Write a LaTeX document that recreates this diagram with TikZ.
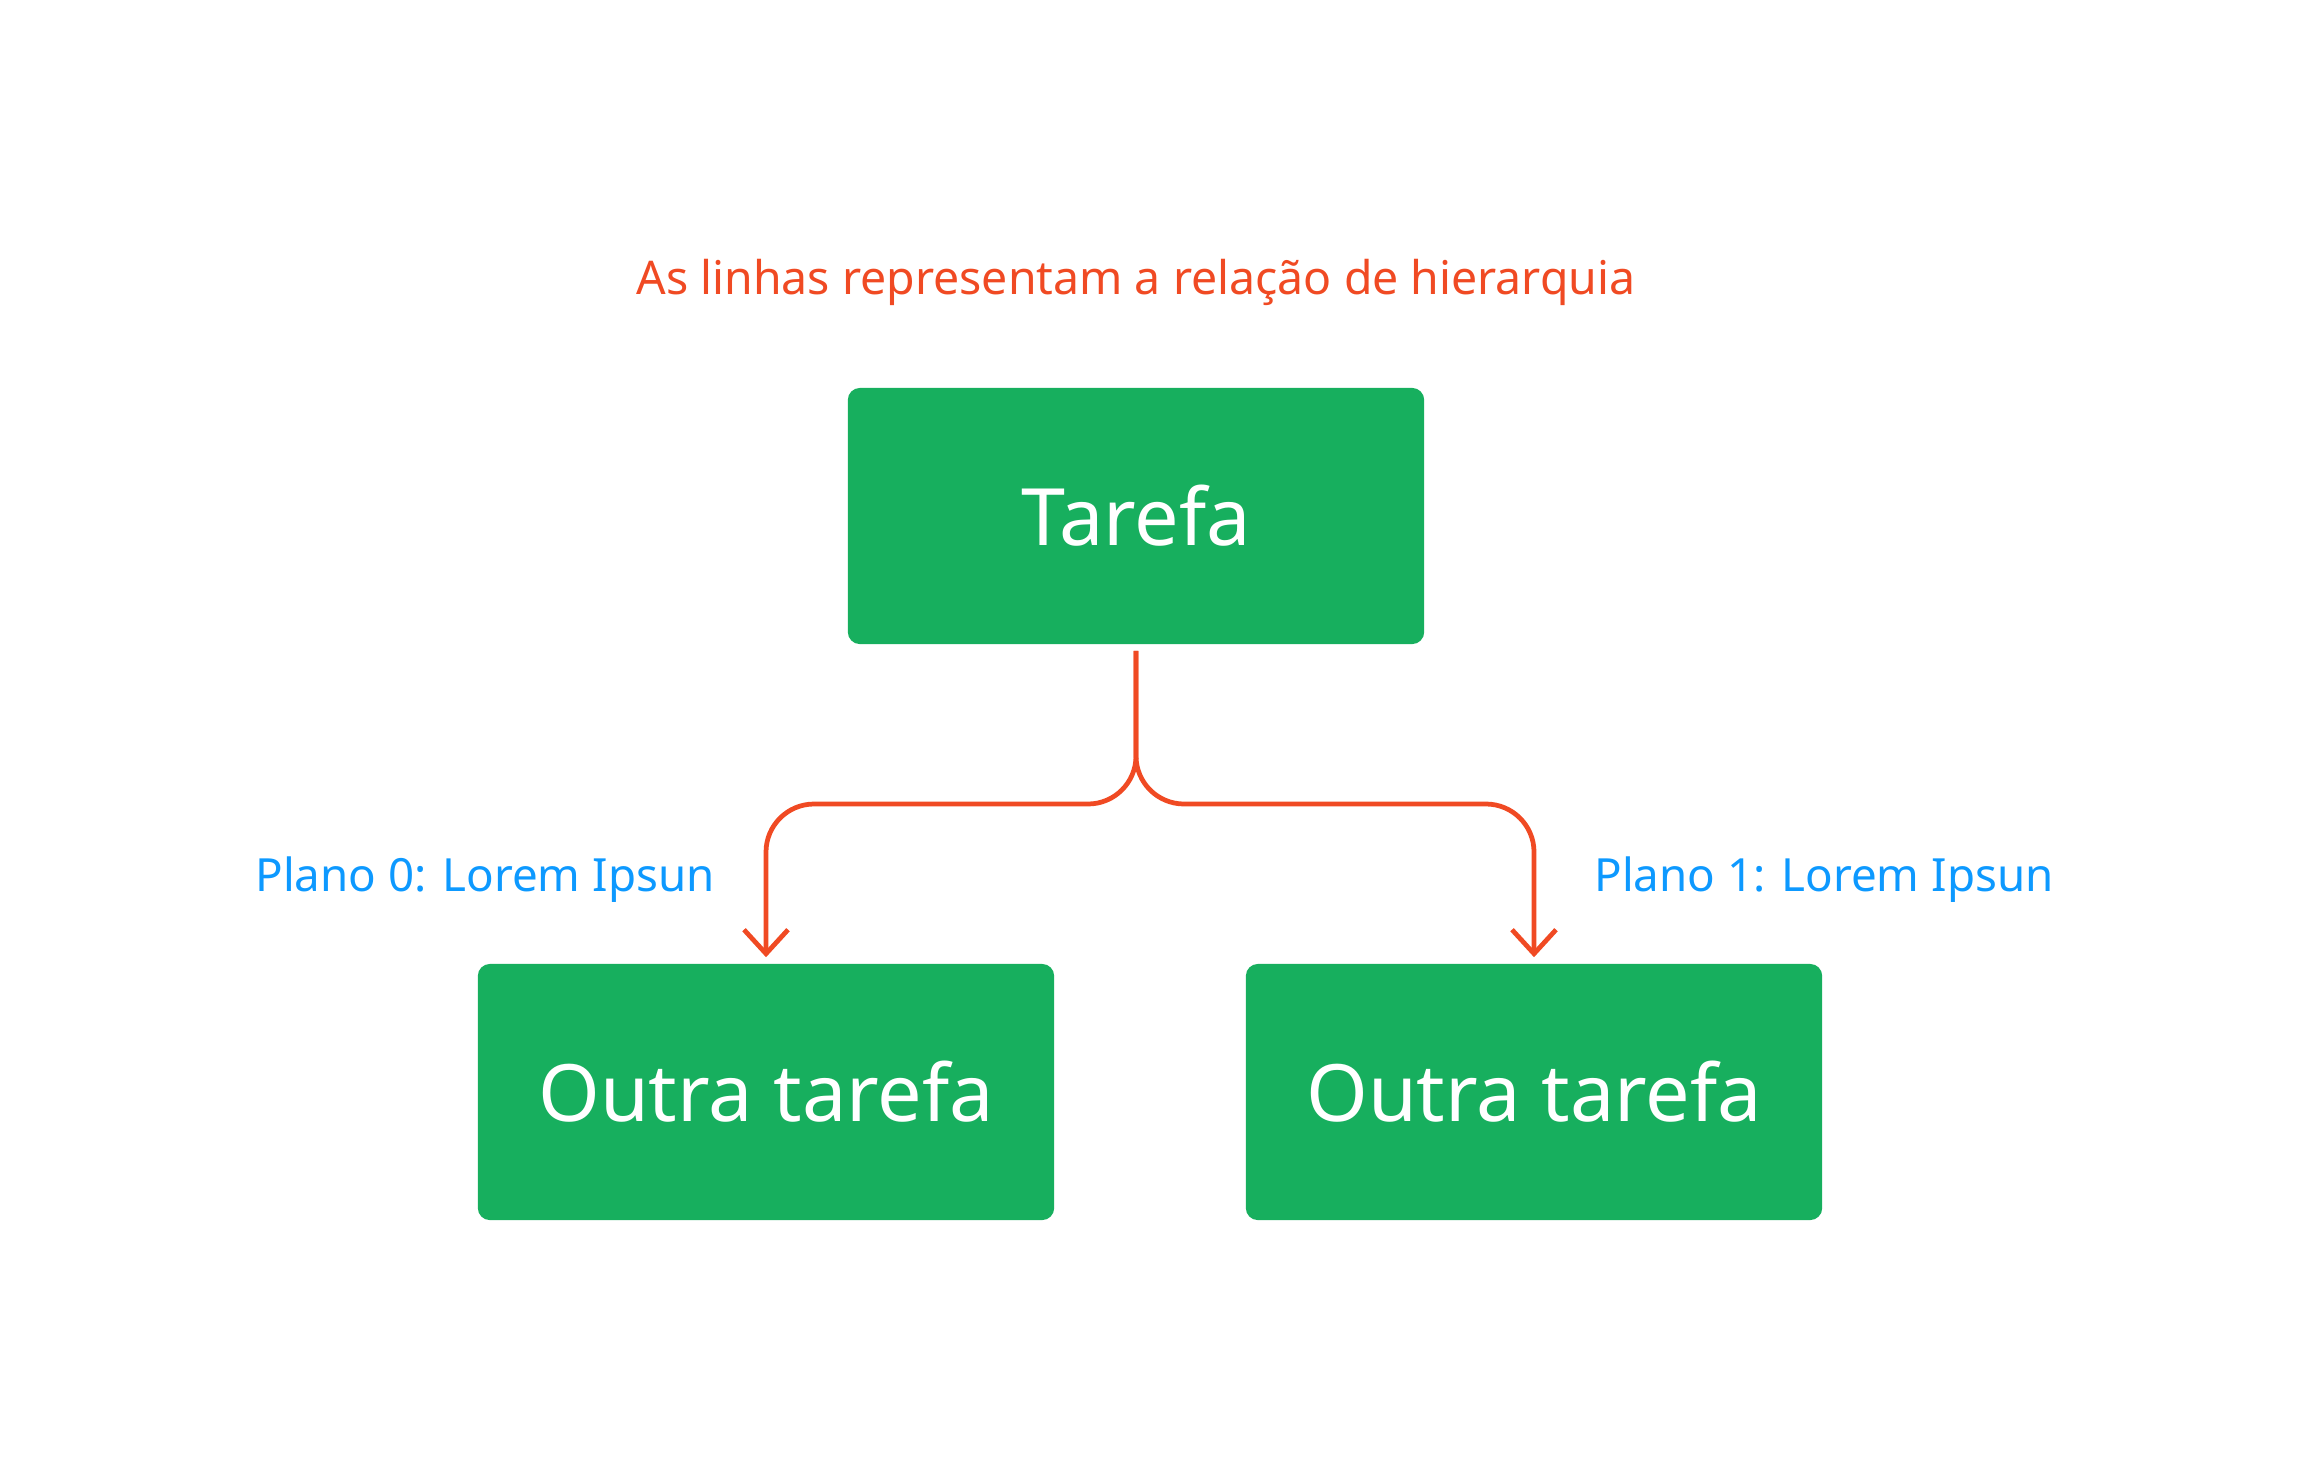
\documentclass[tikz,border=0pt]{standalone}
\usepackage{fontspec}
\setmainfont{Noto Sans}
\usetikzlibrary{arrows.meta}
\definecolor{verde}{RGB}{23,175,94}
\definecolor{laranja}{RGB}{240,74,35}
\definecolor{azul}{RGB}{13,153,255}

\begin{document}
\begin{tikzpicture}[x=0.01cm,y=-0.01cm,
  caixa/.style={fill=verde,rounded corners=0.12cm,minimum width=5.76cm,minimum height=2.56cm,inner sep=0pt,text=white,font=\fontsize{22.5}{27}\selectfont},
  rotulo/.style={text=azul,font=\fontsize{13}{16}\selectfont},
  liga/.style={draw=laranja,line width=1.35pt,rounded corners=0.48cm,-{Straight Barb[length=0.24cm,width=0.44cm]}}]
\useasboundingbox (0,0) rectangle (2304,1476);

\node (titulo) at (1136,282) [text=laranja,font=\fontsize{13.2}{16}\selectfont] {As linhas representam a relação de hierarquia};

\node[caixa] (t) at (1136,516) {Tarefa};
\node[caixa] (a) at (766,1092) {Outra tarefa};
\node[caixa] (b) at (1534,1092) {Outra tarefa};

\coordinate (j) at (1136,804);

\node[rotulo] (p0) at (485,880) {Plano 0: Lorem Ipsun};
\node[rotulo] (p1) at (1824,880) {Plano 1: Lorem Ipsun};

\draw[liga] ([yshift=-0.06cm]t.south) -- (j) -| ([yshift=0.06cm]a.north);
\draw[liga] ([yshift=-0.06cm]t.south) -- (j) -| ([yshift=0.06cm]b.north);
\end{tikzpicture}
\end{document}
